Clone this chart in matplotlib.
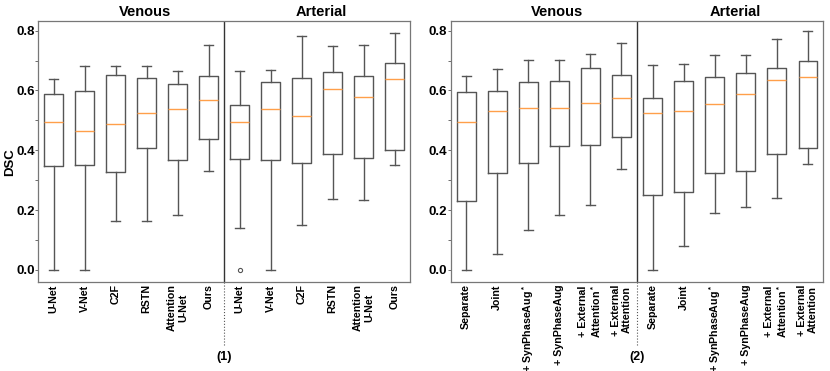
import matplotlib
matplotlib.use('Agg')
from matplotlib import pyplot as plt
from matplotlib import transforms
from matplotlib.ticker import MultipleLocator

plt.rcParams['font.family'] = ['Liberation Sans', 'DejaVu Sans']
plt.rcParams['font.weight'] = 'bold'
plt.rcParams['mathtext.fontset'] = 'custom'
plt.rcParams['mathtext.rm'] = 'Liberation Sans:bold'
plt.rcParams['mathtext.default'] = 'rm'

# ---------------------------------------------
# data (DSC box statistics)
labels_1 = ['U-Net', 'V-Net', 'C2F', 'RSTN', 'Attention\nU-Net', 'Ours']
lo_1 = [0.000, 0.000, 0.163, 0.163, 0.184, 0.332,
        0.139, 0.000, 0.149, 0.237, 0.233, 0.351]
q1_1 = [0.348, 0.352, 0.326, 0.406, 0.369, 0.437,
        0.372, 0.368, 0.357, 0.387, 0.374, 0.401]
med_1 = [0.496, 0.463, 0.487, 0.526, 0.537, 0.568,
         0.496, 0.539, 0.516, 0.606, 0.578, 0.639]
q3_1 = [0.589, 0.597, 0.652, 0.643, 0.622, 0.647,
        0.552, 0.629, 0.643, 0.662, 0.649, 0.691]
hi_1 = [0.637, 0.683, 0.683, 0.681, 0.666, 0.752,
        0.664, 0.668, 0.781, 0.749, 0.752, 0.792]
fliers_1 = [[], [], [], [], [], [],
            [0.0], [], [], [], [], []]

labels_2 = ['Separate', 'Joint', '+ SynPhaseAug$^*$', '+ SynPhaseAug',
            '+ External\nAttention$^*$', '+ External\nAttention']
lo_2 = [0.000, 0.054, 0.135, 0.182, 0.217, 0.337,
        0.000, 0.080, 0.191, 0.212, 0.239, 0.355]
q1_2 = [0.231, 0.325, 0.359, 0.413, 0.419, 0.443,
        0.252, 0.259, 0.325, 0.331, 0.388, 0.407]
med_2 = [0.494, 0.533, 0.542, 0.542, 0.559, 0.575,
         0.526, 0.532, 0.554, 0.588, 0.636, 0.646]
q3_2 = [0.595, 0.598, 0.627, 0.632, 0.676, 0.653,
        0.575, 0.633, 0.646, 0.659, 0.676, 0.698]
hi_2 = [0.650, 0.672, 0.701, 0.701, 0.722, 0.760,
        0.686, 0.689, 0.719, 0.719, 0.773, 0.800]
fliers_2 = [[] for _ in range(12)]

GRAY = '#555555'


def draw_panel(ax, labels, lo, q1, med, q3, hi, fliers, tag, ylabel):
    stats = []
    for i in range(len(med)):
        stats.append(dict(whislo=lo[i], q1=q1[i], med=med[i], q3=q3[i],
                          whishi=hi[i], fliers=fliers[i]))
    ax.bxp(stats, positions=range(1, 13), widths=0.6, showfliers=True,
           boxprops=dict(color=GRAY, linewidth=1.0),
           whiskerprops=dict(color=GRAY, linewidth=1.0),
           capprops=dict(color=GRAY, linewidth=1.0),
           medianprops=dict(color='#ff9f4a', linewidth=1.0),
           flierprops=dict(marker='o', markersize=3, markerfacecolor='none',
                           markeredgecolor=GRAY, markeredgewidth=0.8))
    ax.set_xlim(0.5, 12.5)
    ax.set_ylim(-0.039, 0.833)
    ax.axvline(6.5, color='#333333', linewidth=1.0)

    trans = transforms.blended_transform_factory(ax.transData, ax.transAxes)
    ax.plot([6.5, 6.5], [-0.245, 0], transform=trans, color=GRAY,
            linestyle=':', linewidth=0.8, clip_on=False)
    ax.text(6.5, -0.29, tag, transform=trans, ha='center', va='center',
            fontsize=9, fontweight='bold')
    ax.text(3.94, 1.035, 'Venous', transform=trans, ha='center',
            va='center', fontsize=10.5, fontweight='bold')
    ax.text(9.65, 1.035, 'Arterial', transform=trans, ha='center',
            va='center', fontsize=10.5, fontweight='bold')

    ax.set_xticks(range(1, 13))
    ax.set_xticklabels(labels + labels, rotation=90, fontsize=7.7,
                       fontweight='bold', linespacing=1.1)
    ax.tick_params(axis='x', length=0, pad=2)
    ax.yaxis.set_major_locator(MultipleLocator(0.2))
    ax.yaxis.set_minor_locator(MultipleLocator(0.1))
    ax.tick_params(axis='y', which='both', length=2, width=0.6, color=GRAY,
                   labelsize=9.5, pad=0.5)
    for lab in ax.get_yticklabels():
        lab.set_fontweight('bold')
    for sp in ax.spines.values():
        sp.set_color('#777777')
        sp.set_linewidth(0.9)
    if ylabel:
        ax.set_ylabel('DSC', fontsize=9.5, fontweight='bold')
        ax.yaxis.set_label_coords(-0.06, 0.459)


fig = plt.figure(figsize=(8.3, 3.71), dpi=100)
ax1 = fig.add_axes([0.046, 0.241, 0.448, 0.703])
ax2 = fig.add_axes([0.543, 0.241, 0.449, 0.703])

draw_panel(ax1, labels_1, lo_1, q1_1, med_1, q3_1, hi_1, fliers_1, '(1)', True)
draw_panel(ax2, labels_2, lo_2, q1_2, med_2, q3_2, hi_2, fliers_2, '(2)', False)

fig.savefig('out.png', dpi=100)
plt.close()
